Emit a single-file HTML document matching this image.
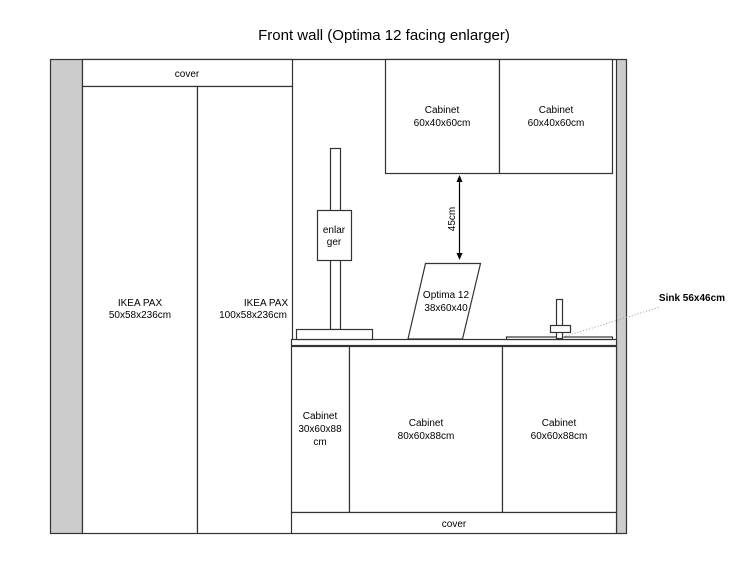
<!DOCTYPE html>
<html><head><style>body{margin:0;background:#fff}svg{display:block}text{font-family:"Liberation Sans",Arial,sans-serif;fill:#000}</style></head>
<body>
<svg width="746" height="564" viewBox="0 0 746 564" xmlns="http://www.w3.org/2000/svg">
<text x="384" y="40" font-size="15" text-anchor="middle">Front wall (Optima 12 facing enlarger)</text>
<g stroke="#333" stroke-width="1.2" fill="none">
<rect x="50.5" y="59.5" width="32" height="474" fill="#ccc"/>
<rect x="616.5" y="59.5" width="10" height="474" fill="#ccc"/>
<line x1="82" y1="59.5" x2="616" y2="59.5"/>
<rect x="82.5" y="59.5" width="210" height="27" fill="#fff"/>
<rect x="82.5" y="86.5" width="115" height="447" fill="#fff"/>
<rect x="197.5" y="86.5" width="95" height="447" fill="#fff"/>
<rect x="385.5" y="59.5" width="114" height="114" fill="#fff"/>
<rect x="499.5" y="59.5" width="113" height="114" fill="#fff"/>
<rect x="291.5" y="339.5" width="325" height="6" fill="#fff"/>
<rect x="291.5" y="346.5" width="58" height="166" fill="#fff"/>
<rect x="349.5" y="346.5" width="153" height="166" fill="#fff"/>
<rect x="502.5" y="346.5" width="114" height="166" fill="#fff"/>
<rect x="291.5" y="512.5" width="325" height="21" fill="#fff"/>
<rect x="330.5" y="148.5" width="10" height="181" fill="#fff"/>
<rect x="317.5" y="210.5" width="34" height="50" fill="#fff"/>
<rect x="296.5" y="329.5" width="76" height="10" fill="#fff"/>
<polygon points="425.5,263.5 480.5,263.5 462.5,339 408,339" fill="#fff"/>
<rect x="506.5" y="337" width="106" height="2.5" fill="#fff"/>
<rect x="556.5" y="299.5" width="6" height="39" fill="#fff"/>
<rect x="550.5" y="325.5" width="20" height="7" fill="#fff"/>
<line x1="459.5" y1="180" x2="459.5" y2="256" stroke="#000"/>
</g>
<polygon points="459.5,175 456.5,182 462.5,182" fill="#000"/>
<polygon points="459.5,260 456.5,253 462.5,253" fill="#000"/>
<line x1="563" y1="337" x2="660" y2="307" stroke="#999" stroke-width="1" stroke-dasharray="1,2"/>
<g font-size="10" text-anchor="middle">
<text x="187" y="77">cover</text>
<text x="454" y="527">cover</text>
<text x="140" y="306">IKEA PAX</text><text x="140" y="318">50x58x236cm</text>
<text x="266" y="306">IKEA PAX</text><text x="253" y="318">100x58x236cm</text>
<text x="442" y="113">Cabinet</text><text x="442" y="126">60x40x60cm</text>
<text x="556" y="113">Cabinet</text><text x="556" y="126">60x40x60cm</text>
<text x="334" y="233">enlar</text><text x="334" y="245">ger</text>
<text x="446" y="298">Optima 12</text><text x="446" y="311">38x60x40</text>
<text x="320" y="419">Cabinet</text><text x="320" y="432">30x60x88</text><text x="320" y="445">cm</text>
<text x="426" y="426">Cabinet</text><text x="426" y="439">80x60x88cm</text>
<text x="559" y="426">Cabinet</text><text x="559" y="439">60x60x88cm</text>
<text x="0" y="0" transform="translate(455,219) rotate(-90)">45cm</text>
<text x="692" y="301" font-weight="bold">Sink 56x46cm</text>
</g>
</svg>
</body></html>
